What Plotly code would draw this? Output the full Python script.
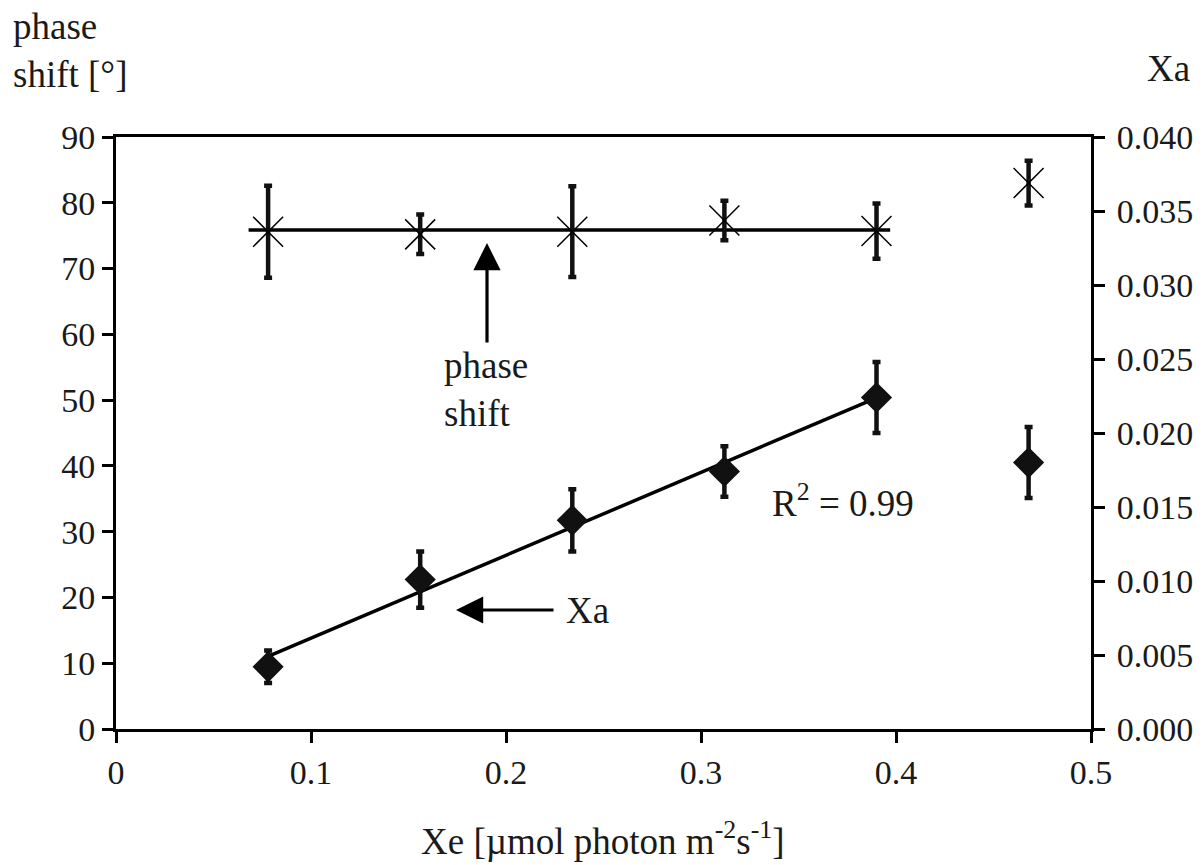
import numpy as np
import plotly.graph_objects as go

# ---------------- data ----------------
xe = [0.078, 0.156, 0.234, 0.312, 0.390, 0.468]
phase_shift = [75.6, 75.2, 75.6, 77.3, 75.7, 83.0]
phase_err = [7.0, 3.0, 6.9, 3.0, 4.2, 3.4]
xa = [0.0042, 0.0101, 0.0141, 0.0174, 0.0224, 0.0180]
xa_err = [0.0011, 0.0019, 0.0021, 0.0017, 0.0024, 0.0024]
n_fit = 5                      # first five points used for the fits
phase_line_x = [0.068, 0.397]  # extent of the horizontal phase-shift line
x_ticks = [0, 0.1, 0.2, 0.3, 0.4, 0.5]
x_tick_text = ["0", "0.1", "0.2", "0.3", "0.4", "0.5"]
y1_ticks = [0, 10, 20, 30, 40, 50, 60, 70, 80, 90]
y2_ticks = [0.000, 0.005, 0.010, 0.015, 0.020, 0.025, 0.030, 0.035, 0.040]

# fits
phase_mean = float(np.mean(phase_shift[:n_fit]))
slope, icpt = np.polyfit(xe[:n_fit], xa[:n_fit], 1)
fit_x = [xe[0], xe[n_fit - 1]]
fit_y = [slope * v + icpt for v in fit_x]

FONT = "Liberation Serif"
TXT = "#1a1a1a"
FS_TICK = 34
FS = 37

W, H = 1202, 865
L, R, T, B = 116, 1091, 137, 729


def px(xp):
    return (xp - L) / (R - L)


def py(yp):
    return (B - yp) / (B - T)


fig = go.Figure()

# phase shift horizontal line
fig.add_trace(go.Scatter(
    x=phase_line_x, y=[phase_mean, phase_mean], mode="lines",
    line=dict(color="black", width=3.5), yaxis="y", showlegend=False,
    hoverinfo="skip"))

# phase shift points
fig.add_trace(go.Scatter(
    x=xe, y=phase_shift, mode="markers", yaxis="y", showlegend=False,
    marker=dict(symbol="x-thin-open", size=30, color="black",
                line=dict(color="#222", width=1.5)),
    error_y=dict(type="data", array=phase_err, visible=True,
                 color="#111", thickness=4.5, width=4)))

# Xa regression line
fig.add_trace(go.Scatter(
    x=fit_x, y=fit_y, mode="lines", yaxis="y2",
    line=dict(color="black", width=3.5), showlegend=False, hoverinfo="skip"))

# Xa points
fig.add_trace(go.Scatter(
    x=xe, y=xa, mode="markers", yaxis="y2", showlegend=False,
    marker=dict(symbol="diamond", size=24, color="#111",
                line=dict(width=0)),
    error_y=dict(type="data", array=xa_err, visible=True,
                 color="#111", thickness=4.5, width=4)))

axis_common = dict(
    showgrid=False, zeroline=False, showline=True, linecolor="black",
    linewidth=3, ticks="outside", ticklen=11, tickwidth=3, automargin=False,
    tickcolor="black", tickfont=dict(family=FONT, size=FS_TICK, color=TXT))

fig.update_layout(
    width=W, height=H,
    margin=dict(l=L, r=W - R, t=T, b=H - B, pad=0, autoexpand=False),
    paper_bgcolor="white", plot_bgcolor="white",
    xaxis=dict(range=[0, 0.5], tickvals=x_ticks, ticktext=x_tick_text,
               mirror=True, **axis_common),
    yaxis=dict(range=[0, 90], tickvals=y1_ticks, **axis_common),
    yaxis2=dict(range=[0, 0.040], tickvals=y2_ticks, tickformat=".3f",
                overlaying="y", side="right", anchor="x",
                ticklabelstandoff=5, **axis_common),
)

ann_font = dict(family=FONT, size=FS, color=TXT)
annotations = [
    # left axis title
    dict(text="phase<br>shift [°]", xref="paper", yref="paper",
         x=px(11), y=py(50), xanchor="left", yanchor="middle", align="left",
         showarrow=False, font=ann_font),
    # right axis title
    dict(text="Xa", xref="paper", yref="paper", x=px(1168), y=py(68),
         xanchor="center", yanchor="middle", showarrow=False, font=ann_font),
    # x axis title
    dict(text="Xe [µmol photon m<sup>-2</sup>s<sup>-1</sup>]", xref="paper",
         yref="paper", x=px(603), y=py(864), xanchor="center",
         yanchor="bottom", showarrow=False, font=ann_font),
    # phase shift label
    dict(text="phase<br>shift", xref="paper", yref="paper", x=px(442),
         y=py(389), xanchor="left", yanchor="middle", align="left",
         showarrow=False, font=ann_font),
    # vertical arrow
    dict(text="", xref="paper", yref="paper", x=px(487), y=py(243),
         ax=0, ay=101, axref="pixel", ayref="pixel",
         showarrow=True, arrowhead=2, arrowsize=1.7, arrowwidth=3.2,
         arrowcolor="black"),
    # Xa label + arrow
    dict(text="Xa", xref="paper", yref="paper", x=px(564), y=py(610),
         xanchor="left", yanchor="middle", showarrow=False, font=ann_font),
    dict(text="", xref="paper", yref="paper", x=px(456), y=py(610),
         ax=99, ay=0, axref="pixel", ayref="pixel",
         showarrow=True, arrowhead=2, arrowsize=1.7, arrowwidth=3.2,
         arrowcolor="black"),
    # R^2
    dict(text="R<sup>2</sup> = 0.99", xref="paper", yref="paper",
         x=px(770), y=py(500), xanchor="left", yanchor="middle",
         showarrow=False, font=ann_font),
]
fig.update_layout(annotations=annotations)

fig.write_html("out.html")
